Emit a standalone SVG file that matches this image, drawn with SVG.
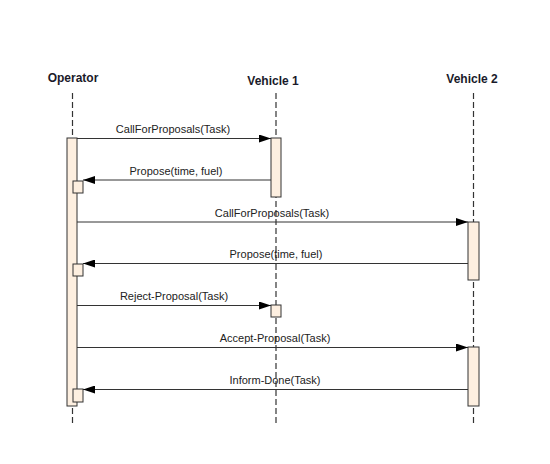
<svg xmlns="http://www.w3.org/2000/svg" width="550" height="464" viewBox="0 0 550 464">
<style>
.head{font-family:"Liberation Sans",Arial,sans-serif;font-weight:bold;font-size:12px;fill:#1a1a2a;text-anchor:middle}
.lbl{font-family:"Liberation Sans",Arial,sans-serif;font-size:11px;fill:#222;text-anchor:middle}
.life{stroke:#333;stroke-width:1.2;stroke-dasharray:6,3;fill:none}
.act{fill:#fdefe0;stroke:#333;stroke-width:1}
.msg{stroke:#333;stroke-width:1;fill:none;marker-end:url(#ah)}
</style>
<defs>
<marker id="ah" viewBox="0 0 12 8" refX="12" refY="4" markerWidth="12" markerHeight="8" markerUnits="userSpaceOnUse" orient="auto">
<path d="M0,0 L12,4 L0,8 Z" fill="#000"/>
</marker>
</defs>
<rect width="550" height="464" fill="#fff"/>
<g id="operator">
<text class="head" x="73" y="82">Operator</text>
<line class="life" x1="72.5" y1="93" x2="72.5" y2="426"/>
<rect class="act" x="67" y="138" width="10" height="268"/>
<rect class="act" x="73" y="181" width="10" height="12"/>
<rect class="act" x="73" y="264" width="10" height="12"/>
<rect class="act" x="73" y="389" width="10" height="13"/>
</g>
<g id="vehicle1">
<text class="head" x="273" y="85">Vehicle 1</text>
<line class="life" x1="276" y1="93" x2="276" y2="426"/>
<rect class="act" x="271" y="138" width="10" height="59"/>
<rect class="act" x="271" y="305" width="10" height="12"/>
</g>
<g id="vehicle2">
<text class="head" x="472" y="83">Vehicle 2</text>
<line class="life" x1="473.5" y1="93" x2="473.5" y2="426"/>
<rect class="act" x="468" y="222" width="11" height="58"/>
<rect class="act" x="468" y="347" width="11" height="59"/>
</g>
<g id="connectors">
<line class="msg" x1="77" y1="138.5" x2="271" y2="138.5"/>
<text class="lbl" x="173" y="133">CallForProposals(Task)</text>
<line class="msg" x1="271" y1="180" x2="83" y2="180"/>
<text class="lbl" x="176" y="175">Propose(time, fuel)</text>
<line class="msg" x1="77" y1="222" x2="468" y2="222"/>
<text class="lbl" x="272" y="217">CallForProposals(Task)</text>
<line class="msg" x1="468" y1="263.5" x2="83" y2="263.5"/>
<text class="lbl" x="276" y="258">Propose(time, fuel)</text>
<line class="msg" x1="77" y1="305.5" x2="271" y2="305.5"/>
<text class="lbl" x="174" y="300">Reject-Proposal(Task)</text>
<line class="msg" x1="77" y1="347.5" x2="468" y2="347.5"/>
<text class="lbl" x="275" y="342">Accept-Proposal(Task)</text>
<line class="msg" x1="468" y1="389.5" x2="83" y2="389.5"/>
<text class="lbl" x="275" y="384">Inform-Done(Task)</text>
</g>
</svg>
